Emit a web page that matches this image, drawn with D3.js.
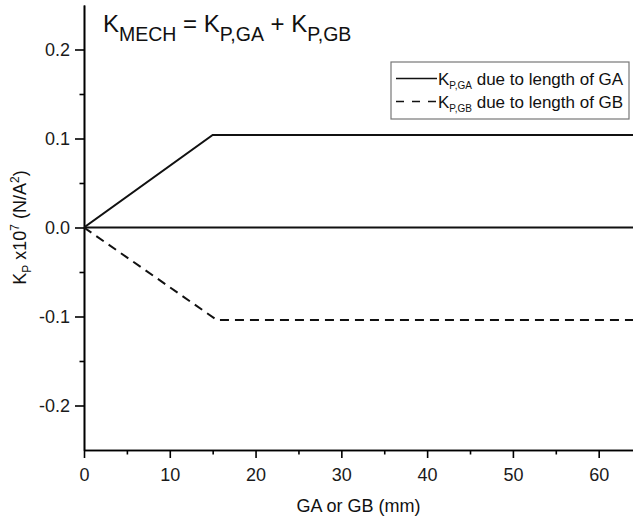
<!DOCTYPE html>
<html>
<head>
<meta charset="utf-8">
<script src="https://cdn.jsdelivr.net/npm/d3@7/dist/d3.min.js"></script>
<style>
  body { margin: 0; background: #fff; }
  svg { display: block; font-family: "Liberation Sans", Arial, sans-serif; }
</style>
</head>
<body>
<svg id="chart" width="633" height="521"></svg>
<script>
// Spring constant contributions versus gap length
const gaX = [0, 15, 64];
const gaY = [0, 0.104, 0.104];
const gbX = [0, 15.5, 64];
const gbY = [0, -0.104, -0.104];
const sumX = [0, 64];
const sumY = [0, 0];

const xTicks = [0, 10, 20, 30, 40, 50, 60];
const xMinorTicks = [5, 15, 25, 35, 45, 55];
const yTicks = [-0.2, -0.1, 0.0, 0.1, 0.2];
const yMinorTicks = [-0.15, -0.05, 0.05, 0.15];

const svg = d3.select("#chart");
const plotLeft = 84, plotRight = 633, plotTop = 5, plotBottom = 450;

const x = d3.scaleLinear().domain([0, 64]).range([plotLeft, plotRight]);
const y = d3.scaleLinear().domain([-0.25, 0.25]).range([plotBottom, plotTop]);

// clip so lines end at the plot edge
svg.append("clipPath").attr("id", "clip")
  .append("rect").attr("x", plotLeft).attr("y", plotTop)
  .attr("width", plotRight - plotLeft).attr("height", plotBottom - plotTop);

// plain hyphen for negative tick labels
const fmtY = d => d3.format(".1f")(d).replace("\u2212", "-");

// axes
const xAxis = d3.axisBottom(x).tickValues(xTicks).tickFormat(d3.format("d")).tickSize(8).tickSizeOuter(0);
const xMinor = d3.axisBottom(x).tickValues(xMinorTicks).tickFormat("").tickSize(4.5).tickSizeOuter(0);
const yAxis = d3.axisLeft(y).tickValues(yTicks).tickFormat(fmtY).tickSize(9).tickSizeOuter(0);
const yMinor = d3.axisLeft(y).tickValues(yMinorTicks).tickFormat("").tickSize(4.5).tickSizeOuter(0);

function styleAxis(g) {
  g.selectAll(".domain").attr("stroke", "#000").attr("stroke-width", 1.6);
  g.selectAll(".tick line").attr("stroke", "#000").attr("stroke-width", 1.6);
  g.selectAll(".tick text").attr("fill", "#1a1a1a").style("font-size", "18px");
}

svg.append("g").attr("transform", `translate(0,${plotBottom})`).call(xMinor).call(styleAxis);
svg.append("g").attr("transform", `translate(0,${plotBottom})`).call(xAxis).call(styleAxis)
  .selectAll(".tick text").attr("y", 18);
svg.append("g").attr("transform", `translate(${plotLeft},0)`).call(yMinor).call(styleAxis);
svg.append("g").attr("transform", `translate(${plotLeft},0)`).call(yAxis).call(styleAxis)
  .selectAll(".tick text").attr("x", -14);

// series lines
const line = d3.line().x(d => x(d[0])).y(d => y(d[1]));
const plot = svg.append("g").attr("clip-path", "url(#clip)");
plot.append("path").datum(d3.zip(sumX, sumY)).attr("d", line)
  .attr("fill", "none").attr("stroke", "#111").attr("stroke-width", 2);
plot.append("path").datum(d3.zip(gaX, gaY)).attr("d", line)
  .attr("fill", "none").attr("stroke", "#111").attr("stroke-width", 2);
plot.append("path").datum(d3.zip(gbX, gbY)).attr("d", line)
  .attr("fill", "none").attr("stroke", "#111").attr("stroke-width", 2)
  .attr("stroke-dasharray", "9,6");

// title equation
const title = svg.append("text").attr("x", 103).attr("y", 32)
  .attr("fill", "#111").style("font-size", "24px");
title.append("tspan").text("K");
title.append("tspan").attr("dy", 9).style("font-size", "19.5px").text("MECH");
title.append("tspan").attr("dy", -9).text(" = K");
title.append("tspan").attr("dy", 9).style("font-size", "19.5px").text("P,GA");
title.append("tspan").attr("dy", -9).text(" + K");
title.append("tspan").attr("dy", 9).style("font-size", "19.5px").text("P,GB");

// legend
const lg = svg.append("g");
lg.append("rect").attr("x", 391).attr("y", 62).attr("width", 238).attr("height", 57)
  .attr("fill", "#fff").attr("stroke", "#777").attr("stroke-width", 1.2);
const legendRows = [
  { sub: "P,GA", text: " due to length of GA", dash: null, yy: 78.5 },
  { sub: "P,GB", text: " due to length of GB", dash: "8,8", yy: 101.5 }
];
legendRows.forEach(r => {
  lg.append("line").attr("x1", 396).attr("x2", 437).attr("y1", r.yy).attr("y2", r.yy)
    .attr("stroke", "#111").attr("stroke-width", 1.6).attr("stroke-dasharray", r.dash);
  const t = lg.append("text").attr("x", 438).attr("y", r.yy + 6.5).attr("fill", "#111").style("font-size", "17px");
  t.append("tspan").text("K");
  t.append("tspan").attr("dy", 4).style("font-size", "10px").text(r.sub);
  t.append("tspan").attr("dy", -4).text(r.text);
});

// axis titles
svg.append("text").attr("x", (plotLeft + plotRight) / 2).attr("y", 512).attr("text-anchor", "middle")
  .attr("fill", "#111").style("font-size", "18px").text("GA or GB (mm)");

const yt = svg.append("text").attr("transform", `translate(26,${(plotTop + plotBottom) / 2}) rotate(-90)`)
  .attr("text-anchor", "middle").attr("fill", "#111").style("font-size", "18px");
yt.append("tspan").text("K");
yt.append("tspan").attr("dy", 5).style("font-size", "12px").text("P");
yt.append("tspan").attr("dy", -5).text(" x10");
yt.append("tspan").attr("dy", -7).style("font-size", "12px").text("7");
yt.append("tspan").attr("dy", 7).text(" (N/A");
yt.append("tspan").attr("dy", -7).style("font-size", "12px").text("2");
yt.append("tspan").attr("dy", 7).text(")");
</script>
</body>
</html>
